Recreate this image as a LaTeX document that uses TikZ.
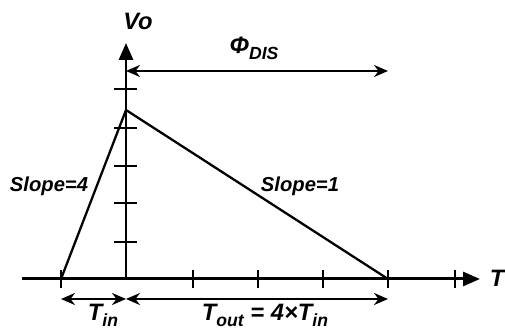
\documentclass[tikz,border=0pt]{standalone}
\usepackage{fontspec}
\setmainfont{Liberation Sans}
\usepackage{tikz}
\usetikzlibrary{arrows.meta,positioning,calc}
\newcommand{\lowtext}[1]{\raisebox{-0.45ex}{\fontsize{10}{12}\selectfont #1}}
\tikzset{
  axis/.style={line width=1.7pt,-{Triangle[length=3.4mm,width=2.8mm]}},
  tick/.style={line width=1.5pt},
  ramp/.style={line width=1.3pt},
  span/.style={line width=1.3pt,{Stealth[length=2.8mm,width=2.4mm]}-{Stealth[length=2.8mm,width=2.4mm]}},
  blab/.style={inner sep=0pt,anchor=base,font=\bfseries\itshape\fontsize{13.5}{15}\selectfont},
  slab/.style={inner sep=0pt,anchor=base,font=\bfseries\itshape\fontsize{11.5}{13}\selectfont}
}

\begin{document}
\begin{tikzpicture}
\useasboundingbox (-2.52,-1.04) rectangle (7.58,5.58);
\coordinate (O) at (0,0);
\coordinate (Xs) at (-2.08,0);
\coordinate (Xe) at (7.08,0);
\coordinate (Ye) at (0,4.72);
\coordinate (S) at (-1.3,0);
\coordinate (P) at (0,3.38);
\coordinate (E) at (5.24,0);
% axes
\draw[axis] (Xs) -- (Xe);
\draw[axis] (O) -- (Ye);
% ticks
\draw[tick] (-1.3,-0.18) -- (-1.3,0.18);
\draw[tick] (1.34,-0.18) -- (1.34,0.18);
\draw[tick] (2.64,-0.18) -- (2.64,0.18);
\draw[tick] (3.94,-0.18) -- (3.94,0.18);
\draw[tick] (5.24,-0.18) -- (5.24,0.18);
\draw[tick] (6.58,-0.18) -- (6.58,0.18);
\draw[tick] (-0.23,0.74) -- (0.23,0.74);
\draw[tick] (-0.23,1.52) -- (0.23,1.52);
\draw[tick] (-0.23,2.26) -- (0.23,2.26);
\draw[tick] (-0.23,3.02) -- (0.23,3.02);
\draw[tick] (-0.23,3.80) -- (0.23,3.80);
% triangle
\draw[ramp] (S) -- (P) -- (E);
% spans
\coordinate (Fa) at (0,4.16);
\coordinate (Fb) at (5.24,4.16);
\coordinate (Ta) at (-1.3,-0.4);
\coordinate (Tb) at (0,-0.4);
\coordinate (Tc) at (5.24,-0.4);
\draw[span] (Fa) -- (Fb);
\draw[span] (Ta) -- (Tb);
\draw[span] (Tb) -- (Tc);
% labels
\node[blab] (Vo) at (0.24,4.98) {Vo};
\node[blab] (T) at (7.42,-0.16) {T};
\node[blab] (Phi) at (2.56,4.5) {Φ\lowtext{DIS}};
\node[blab] (Tin) at (-0.46,-0.84) {T\lowtext{in}};
\node[blab] (Tout) at (2.78,-0.84) {T\lowtext{out} = 4×T\lowtext{in}};
\node[slab] (S4) at (-1.54,1.74) {Slope=4};
\node[slab] (S1) at (3.48,1.74) {Slope=1};
\end{tikzpicture}
\end{document}
